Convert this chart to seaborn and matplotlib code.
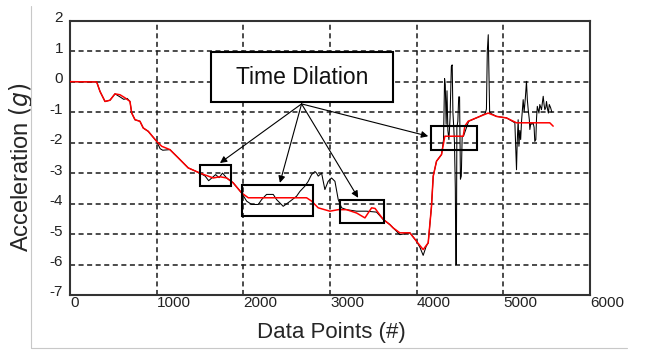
import seaborn as sns
from matplotlib import pyplot as plt
from matplotlib.patches import Rectangle
from matplotlib.lines import Line2D
import matplotlib.transforms as mtransforms

# smoothed (red) trace
red_x = [0, 308, 346, 404, 461, 519, 577, 634, 692, 712, 750, 807, 845, 903,
         1000, 1058, 1153, 1249, 1364, 1499, 1653, 1730, 1807, 1883, 1980,
         2057, 2153, 2730, 2788, 2864, 2999, 3095, 3191, 3307, 3403, 3480,
         3520, 3614, 3691, 3729, 3806, 3922, 3999, 4075, 4133, 4171, 4191,
         4229, 4287, 4325, 4537, 4556, 4594, 4729, 4825, 4921, 5037, 5152,
         5536, 5575]
red_y = [0, -0.01, -0.32, -0.65, -0.61, -0.40, -0.43, -0.53, -0.65, -1.03,
         -1.25, -1.30, -1.52, -1.63, -1.96, -2.12, -2.23, -2.50, -2.83, -3.00,
         -3.16, -3.12, -3.16, -3.32, -3.65, -3.81, -3.81, -3.81, -3.92, -4.14,
         -4.25, -4.20, -4.20, -4.31, -4.47, -4.14, -4.16, -4.52, -4.69, -4.80,
         -4.96, -4.96, -5.24, -5.51, -5.29, -4.09, -3.10, -2.61, -2.39, -1.79,
         -1.79, -1.46, -1.30, -1.14, -1.03, -1.14, -1.19, -1.35, -1.35, -1.46]

# raw (black) trace
black_x = [0, 308, 346, 404, 461, 519, 577, 620, 660, 692, 712, 750, 807, 845,
           903, 1000, 1040, 1070, 1153, 1249, 1364, 1499, 1560, 1600, 1640,
           1680, 1720, 1760, 1807, 1883, 1980, 2038, 2096, 2172, 2211, 2268,
           2345, 2384, 2460, 2537, 2614, 2653, 2710, 2749, 2787, 2806, 2826,
           2845, 2864, 2903, 2941, 2979, 3018, 3057, 3095, 3134, 3191, 3307,
           3420, 3537, 3614, 3691, 3729, 3806, 3922, 3999, 4040, 4075, 4110,
           4133, 4171, 4191, 4229, 4287, 4310, 4322, 4330, 4340, 4350, 4360,
           4372, 4385, 4400, 4410, 4418, 4428, 4436, 4446, 4452, 4458, 4464,
           4475, 4485, 4495, 4505, 4515, 4525, 4540, 4600, 4729, 4790, 4805,
           4815, 4826, 4834, 4842, 4860, 4921, 5037, 5133, 5143, 5152, 5160,
           5171, 5180, 5190, 5200, 5210, 5229, 5240, 5255, 5267, 5277, 5287,
           5300, 5306, 5318, 5330, 5344, 5355, 5363, 5375, 5383, 5392, 5402,
           5411, 5421, 5432, 5440, 5450, 5460, 5470, 5479, 5490, 5498, 5510,
           5520, 5530, 5545, 5560]
black_y = [0, -0.01, -0.32, -0.65, -0.61, -0.40, -0.50, -0.58, -0.55, -0.65,
           -1.03, -1.25, -1.30, -1.52, -1.63, -1.96, -2.20, -2.25, -2.23, -2.50,
           -2.83, -3.00, -3.10, -3.25, -3.15, -3.05, -3.15, -3.00, -3.16, -3.32,
           -3.65, -3.92, -4.03, -4.03, -3.87, -3.70, -3.70, -3.87, -4.09, -3.93,
           -3.76, -3.60, -3.43, -3.27, -3.05, -3.00, -2.95, -3.00, -3.10, -3.00,
           -3.54, -3.27, -3.16, -3.27, -3.87, -4.14, -4.20, -4.25, -4.25, -4.28,
           -4.52, -4.69, -4.80, -5.02, -4.96, -5.24, -5.45, -5.70, -5.40, -5.29,
           -4.09, -3.10, -2.61, -2.39, -1.90, 0.10, -0.10, -1.40, -0.30, -1.60,
           -1.90, -1.20, 0.50, 0.55, -1.00, -1.50, -2.00, -3.50, -6.00, -6.00,
           -1.50, -1.30, -0.50, -0.50, -3.20, -3.10, -1.80, -1.79, -1.30, -1.14,
           -1.05, -0.90, 1.00, 1.54, 0.30, -1.00, -1.05, -1.14, -1.19, -1.35,
           -2.20, -2.89, -2.00, -1.25, -2.12, -1.60, -1.90, -1.30, -0.59, -1.00,
           -0.50, 0.01, -0.60, -0.92, -1.25, -1.57, -1.35, -1.40, -1.35, -1.50,
           -1.96, -1.90, -1.20, -0.81, -0.92, -1.03, -0.75, -0.85, -0.92, -0.70,
           -0.48, -0.75, -0.92, -0.85, -0.65, -0.90, -1.03, -0.75, -0.85, -1.00]

x_ticks = [0, 1000, 2000, 3000, 4000, 5000, 6000]
y_ticks = [2, 1, 0, -1, -2, -3, -4, -5, -6, -7]

sns.set_style("white")
plt.rcParams['font.family'] = ['Liberation Sans', 'DejaVu Sans']

fig = plt.figure(figsize=(6.48, 3.5), dpi=100)
ax = fig.add_axes([70/648, 1 - 295/350, 520/648, 274.3/350])

sns.lineplot(x=black_x, y=black_y, ax=ax, color='black', lw=0.75,
             sort=False, estimator=None, zorder=3)
sns.lineplot(x=red_x, y=red_y, ax=ax, color='#ff0000', lw=1.1,
             sort=False, estimator=None, zorder=4)

ax.set_xlim(0, 6000)
ax.set_ylim(-7, 2)
ax.set_xticks(x_ticks)
ax.set_yticks(y_ticks)
ax.set_xticklabels([str(t) for t in x_ticks], ha='left')
ax.set_yticklabels([str(t) for t in y_ticks])
ax.tick_params(axis='both', length=0, labelsize=11, colors='#222222')
ax.tick_params(axis='x', pad=1)
ax.tick_params(axis='y', pad=5)
up = mtransforms.ScaledTranslation(0, 0.04, fig.dpi_scale_trans)
for lab in ax.get_yticklabels():
    lab.set_transform(lab.get_transform() + up)

ax.grid(True, color='#1a1a1a', linestyle=(0, (3.3, 2.3)), linewidth=1.1)
for sp in ax.spines.values():
    sp.set_color('#333333')
    sp.set_linewidth(1.5)

ax.set_xlabel('Data Points (#)', fontsize=16)
ax.set_ylabel('Acceleration $(g)$', fontsize=17)
ax.xaxis.set_label_coords(0.502, -0.098)
ax.yaxis.set_label_coords(-0.067, 0.467)

# annotation: label box, highlight boxes, arrows
ax.add_patch(Rectangle((1626, -0.67), 2103, 1.64, facecolor='white',
                       edgecolor='black', lw=1.5, zorder=6))
ax.text(2677, 0.15, 'Time Dilation', ha='center', va='center',
        fontsize=16.5, color='#111111', zorder=7)
for x0, y0, w, h in [(1499, -3.43, 354, 0.71), (1980, -4.42, 826, 1.04),
                     (3114, -4.63, 508, 0.74), (4171, -2.23, 527, 0.77)]:
    ax.add_patch(Rectangle((x0, y0), w, h, fill=False, edgecolor='black',
                           lw=1.5, zorder=5))
for tx, ty in [(1730, -2.67), (2422, -3.32), (3325, -3.81), (4133, -1.79)]:
    ax.annotate('', xy=(tx, ty), xytext=(2672, -0.73),
                arrowprops=dict(arrowstyle='-|>', color='black', lw=0.8,
                                mutation_scale=10, shrinkA=0, shrinkB=0),
                zorder=6)

# light frame on the left and bottom
fig.add_artist(Line2D([31/648, 31/648], [1 - 6/350, 1 - 348/350],
                      transform=fig.transFigure, color='#c8c8c8', lw=0.8))
fig.add_artist(Line2D([31/648, 627/648], [1 - 348/350, 1 - 348/350],
                      transform=fig.transFigure, color='#c8c8c8', lw=0.8))

fig.savefig('out.png', dpi=100)
